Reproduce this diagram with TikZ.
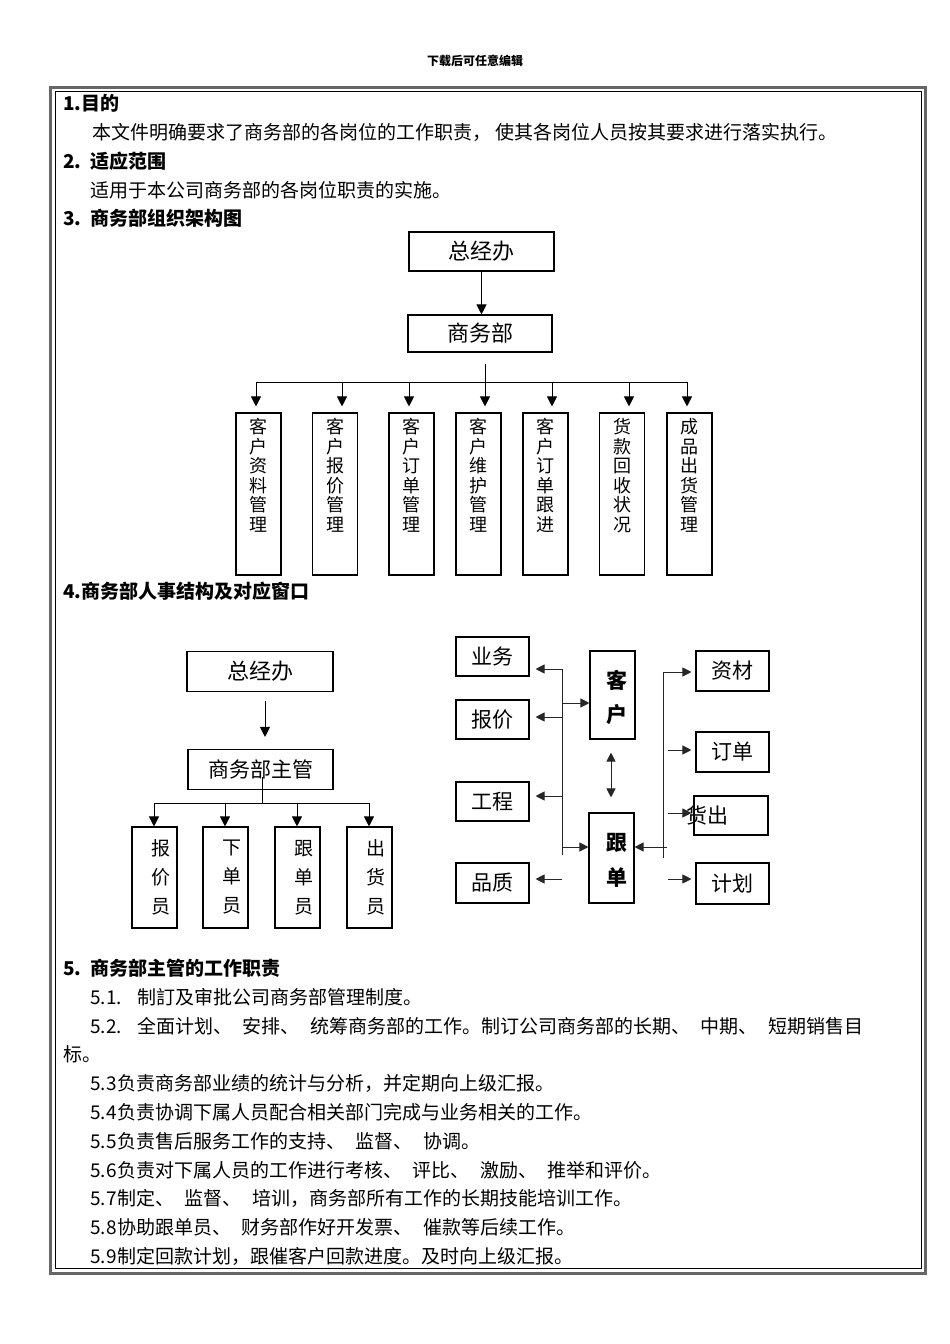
\documentclass[tikz,border=0pt]{standalone}
\usepackage{fontspec}
\setmainfont{Noto Sans CJK SC}
\usetikzlibrary{arrows.meta}
\newcommand\gap{\hspace{10.5pt}}
\begin{document}
\begin{tikzpicture}[x=1pt,y=-1pt,
  box/.style={draw, line width=1.1pt, inner sep=0pt, font=\fontsize{22}{22}\selectfont},
  rbox/.style={box, minimum width=73pt, minimum height=39pt, font=\fontsize{21}{21}\selectfont},
  con/.style={line width=1pt},
  rcon/.style={line width=0.9pt, black!85},
  arr/.style={con, -{Triangle[width=10pt,length=10pt]}},
  rarr/.style={rcon, -{Triangle[width=9pt,length=9pt]}},
  txt/.style={anchor=west, inner sep=0pt, font=\fontsize{19}{19}\selectfont},
  head/.style={anchor=west, inner sep=0pt, font=\fontsize{19}{19}\selectfont\bfseries},
  vtxt/.style={anchor=north, yshift=-6pt, inner sep=0pt, align=center, font=\fontsize{18}{19.5}\selectfont},
  ctxt/.style={anchor=center, inner sep=0pt, align=center}
]
\useasboundingbox (0,0) rectangle (950,1344);

% header
\node[inner sep=0pt, font=\fontsize{12}{12}\selectfont\bfseries] (hdr) at (475,61) {下载后可任意编辑};

% border
\draw[black!60, line width=3pt] (50,87) rectangle (925,1273);
\draw[black, line width=1pt] (55,91) rectangle (921,1268);

% texts
\node[head] (h1) at (63,103) {1.目的};
\node[txt] (t1) at (92,132) {本文件明确要求了商务部的各岗位的工作职责，\hspace{4pt}使其各岗位人员按其要求进行落实执行。};
\node[head] (h2) at (63,161) {\makebox[27pt][l]{2.}适应范围};
\node[txt] (t2) at (90,190) {适用于本公司商务部的各岗位职责的实施。};
\node[head] (h3) at (63,218) {\makebox[27pt][l]{3.}商务部组织架构图};
\node[head] (h4) at (63,591) {4.商务部人事结构及对应窗口};
\node[head] (h5) at (63,968) {\makebox[27pt][l]{5.}商务部主管的工作职责};
\node[txt] (l51) at (90,997) {\makebox[47pt][l]{5.1.}制訂及审批公司商务部管理制度。};
\node[txt] (l52) at (90,1026) {\makebox[47pt][l]{5.2.}全面计划、\gap 安排、\gap 统筹商务部的工作。制订公司商务部的长期、\gap 中期、\gap 短期销售目};
\node[txt] (l52b) at (63,1054) {标。};
\node[txt] (l53) at (90,1083) {\makebox[27pt][l]{5.3}负责商务部业绩的统计与分析，并定期向上级汇报。};
\node[txt] (l54) at (90,1112) {\makebox[27pt][l]{5.4}负责协调下属人员配合相关部门完成与业务相关的工作。};
\node[txt] (l55) at (90,1141) {\makebox[27pt][l]{5.5}负责售后服务工作的支持、\gap 监督、\gap 协调。};
\node[txt] (l56) at (90,1170) {\makebox[27pt][l]{5.6}负责对下属人员的工作进行考核、\gap 评比、\gap 激励、\gap 推举和评价。};
\node[txt] (l57) at (90,1198) {\makebox[27pt][l]{5.7}制定、\gap 监督、\gap 培训，商务部所有工作的长期技能培训工作。};
\node[txt] (l58) at (90,1227) {\makebox[27pt][l]{5.8}协助跟单员、\gap 财务部作好开发票、\gap 催款等后续工作。};
\node[txt] (l59) at (90,1256) {\makebox[27pt][l]{5.9}制定回款计划，跟催客户回款进度。及时向上级汇报。};

% ---------- org chart 1
\node[box, minimum width=145pt, minimum height=39pt] (zjbA) at (481.5,251.5) {总经办};
\node[box, minimum width=144pt, minimum height=37pt] (swbA) at (480,333.5) {商务部};
\draw[arr] (zjbA.south) -- (zjbA.south |- swbA.north);
\coordinate (busA0) at (485,364);
\coordinate (busAm) at (485,382);
\coordinate (busAL) at (256,382);
\coordinate (busAR) at (687,382);
\draw[con] (busA0) -- (busAm);
\draw[con] (busAL) -- (busAR);
\foreach \cx/\n/\t in {258.5/c1/{客\\户\\资\\料\\管\\理},335/c2/{客\\户\\报\\价\\管\\理},411.5/c3/{客\\户\\订\\单\\管\\理},478.5/c4/{客\\户\\维\\护\\管\\理},545.5/c5/{客\\户\\订\\单\\跟\\进},622/c6/{货\\款\\回\\收\\状\\况},689.5/c7/{成\\品\\出\\货\\管\\理}}{
  \node[box, minimum width=45pt, minimum height=162pt, label={[vtxt]north:\t}] (\n) at (\cx,494) {};
}
\foreach \ax/\n in {256/c1,342/c2,409/c3,485/c4,552/c5,629/c6,687/c7}{
  \coordinate (t\n) at (\ax,382);
  \draw[arr, shorten >=6pt] (t\n) -- (t\n |- \n.north);
}

% ---------- org chart 2 (left)
\node[box, minimum width=146pt, minimum height=40pt] (zjbB) at (260,671.5) {总经办};
\node[box, minimum width=145pt, minimum height=40pt, font=\fontsize{21}{21}\selectfont] (swbB) at (260.5,769.5) {商务部主管};
\draw[arr, shorten <=9pt, shorten >=12pt] ([xshift=5pt]zjbB.south) -- ([xshift=5pt]zjbB.south |- swbB.north);
\coordinate (busB0) at (262,777);
\coordinate (busBm) at (262,803);
\coordinate (busBL) at (154,803);
\coordinate (busBR) at (369,803);
\draw[con] (busB0) -- (busBm);
\draw[con] (busBL) -- (busBR);
\foreach \cx/\n/\t in {154.5/b1/{报\\价\\员},225.5/b2/{下\\单\\员},297.5/b3/{跟\\单\\员},369.5/b4/{出\\货\\员}}{
  \node[box, minimum width=45pt, minimum height=101pt, label={[ctxt, xshift=6pt, font=\fontsize{19}{29}\selectfont]center:\t}] (\n) at (\cx,877.5) {};
}
\foreach \ax/\n in {154/b1,225/b2,297/b3,369/b4}{
  \coordinate (t\n) at (\ax,803);
  \draw[arr] (t\n) -- (t\n |- \n.north);
}

% ---------- right diagram
\node[rbox] (yw) at (492.5,656.5) {业务};
\node[rbox] (bj) at (492.5,719.5) {报价};
\node[rbox] (gc) at (492.5,801.5) {工程};
\node[rbox, minimum height=40pt] (pz) at (492.5,883) {品质};
\node[box, minimum width=45pt, minimum height=88pt, label={[ctxt, xshift=4.5pt, yshift=-2pt, font=\fontsize{21}{34}\selectfont\bfseries]center:{客\\户}}] (kh) at (612.5,695) {};
\node[box, minimum width=45pt, minimum height=90pt, label={[ctxt, xshift=5.5pt, yshift=-2pt, font=\fontsize{21}{35}\selectfont\bfseries]center:{跟\\单}}] (gd) at (611.5,858) {};
\node[rbox, minimum height=40pt] (zc) at (732.5,671) {资材};
\node[rbox, minimum height=40pt] (dd) at (732.5,752) {订单};
\node[box, minimum width=74pt, minimum height=39pt, label={[ctxt, xshift=-24pt, font=\fontsize{21}{21}\selectfont]center:货出}] (hc) at (731,815.5) {};
\node[rbox, minimum height=41pt] (jh) at (732.5,883.5) {计划};

% left bus
\coordinate (LT) at (562,669);
\coordinate (LB) at (562,855);
\coordinate (L2) at (562,717);
\coordinate (L3) at (562,796);
\coordinate (L4) at (562,879);
\coordinate (LK) at (562,703);
\coordinate (LG) at (562,847);
\draw[rcon] (LT) -- (LB);
\draw[rarr, shorten >=6pt] (LT) -- (LT -| yw.east);
\draw[rarr, shorten >=6pt] (L2) -- (L2 -| bj.east);
\draw[rarr, shorten >=6pt] (L3) -- (L3 -| gc.east);
\draw[rarr, shorten >=6pt] (L4) -- (L4 -| pz.east);
\draw[rarr] (LK) -- (LK -| kh.west);
\draw[rarr] (LG) -- (LG -| gd.west);

% double arrow
\draw[rcon, {Triangle[width=9pt,length=9pt]}-{Triangle[width=9pt,length=9pt]}, shorten <=13pt, shorten >=15pt] ([xshift=-1.5pt]kh.south) -- ([xshift=-1.5pt]kh.south |- gd.north);

% right bus
\coordinate (RT) at (663,672);
\coordinate (RB) at (663,858);
\coordinate (R2) at (668,750);
\coordinate (R3) at (668,813);
\coordinate (R4) at (668,879);
\coordinate (RG) at (667,847);
\draw[rcon] (RT) -- (RB);
\draw[rarr, shorten >=4pt] (RT) -- (RT -| zc.west);
\draw[rarr, shorten >=4pt] (R2) -- (R2 -| dd.west);
\draw[rarr, shorten >=2pt] (R3) -- (R3 -| hc.west);
\draw[rarr, shorten >=4pt] (R4) -- (R4 -| jh.west);
\draw[rarr] (RG) -- (RG -| gd.east);
\end{tikzpicture}
\end{document}
